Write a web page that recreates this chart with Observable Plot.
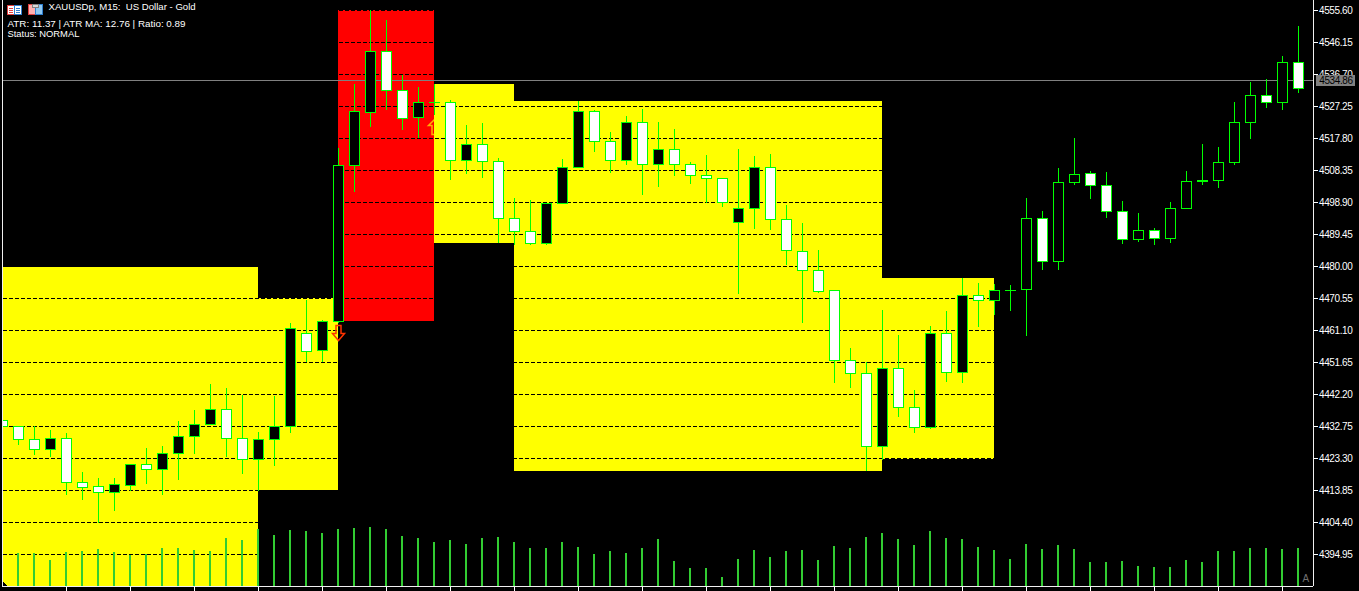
<!DOCTYPE html>
<html><head><meta charset="utf-8">
<script src="https://cdn.jsdelivr.net/npm/d3@7"></script>
<script src="https://cdn.jsdelivr.net/npm/@observablehq/plot@0.6"></script>
<style>
html,body{margin:0;padding:0;background:#000;overflow:hidden}
#wrap{position:relative;width:1359px;height:591px}
#icons{position:absolute;left:0;top:0}
svg text{font-family:"Liberation Sans",sans-serif}
.ya text{letter-spacing:-.4px}
</style></head><body><div id="wrap"></div>
<script>
const open=[4434.52,4432.75,4428.91,4425.96,4429.21,4416.22,4415.04,4413.26,4415.33,4421.53,4420.05,4424.78,4429.80,4433.35,4437.77,4429.21,4423.00,4428.91,4432.75,4460.21,4455.20,4463.76,4509.83,4525.48,4543.49,4531.98,4524.00,4528.44,4528.44,4511.31,4516.03,4511.01,4494.18,4490.34,4486.79,4498.60,4509.24,4525.77,4516.91,4511.31,4522.53,4510.13,4514.55,4510.13,4506.87,4505.99,4493.00,4497.13,4509.24,4493.88,4484.43,4478.82,4472.92,4452.24,4448.40,4426.85,4449.88,4438.36,4432.45,4460.21,4448.70,4471.44,4469.96,4472.92,4473.21,4494.18,4481.48,4504.81,4507.46,4503.92,4496.24,4487.97,4490.64,4488.27,4497.13,4505.40,4505.40,4510.72,4522.53,4530.50,4528.44,4540.24];
const close=[4432.75,4428.91,4425.96,4429.21,4416.22,4414.74,4413.26,4415.63,4421.53,4420.05,4424.78,4429.80,4433.35,4437.77,4429.21,4423.00,4428.91,4432.75,4461.70,4454.90,4463.76,4509.83,4525.77,4543.49,4531.98,4523.71,4528.44,4528.44,4511.31,4516.03,4511.01,4494.18,4490.34,4486.79,4498.60,4509.24,4525.77,4516.91,4511.31,4522.53,4510.13,4514.55,4510.13,4506.87,4505.99,4498.90,4497.13,4509.24,4493.88,4484.73,4478.82,4472.62,4452.24,4448.40,4426.85,4449.88,4438.36,4432.45,4460.21,4448.70,4471.44,4469.96,4472.92,4472.92,4494.18,4481.48,4504.81,4507.17,4503.92,4496.24,4487.97,4490.64,4488.27,4497.13,4505.10,4505.10,4510.72,4522.53,4530.50,4528.44,4540.24,4532.57];
const high=[4434.52,4432.75,4432.75,4431.57,4430.68,4419.17,4417.40,4417.40,4421.53,4426.26,4426.85,4434.23,4437.48,4445.16,4443.98,4441.90,4430.98,4441.61,4463.17,4469.96,4464.06,4514.85,4533.75,4555.60,4552.65,4536.40,4532.86,4533.75,4529.03,4521.64,4522.23,4511.90,4500.09,4499.50,4498.60,4511.60,4528.73,4526.07,4519.58,4524.30,4526.36,4522.53,4520.46,4510.72,4512.78,4505.99,4514.55,4512.49,4513.08,4498.01,4492.70,4484.73,4472.92,4455.79,4451.65,4467.01,4459.62,4443.39,4462.29,4466.71,4476.46,4474.98,4474.69,4474.39,4500.09,4496.24,4508.94,4517.80,4508.06,4507.76,4499.20,4495.65,4491.23,4498.90,4508.06,4516.03,4515.14,4528.44,4534.34,4535.22,4542.02,4550.88];
const low=[4432.75,4427.14,4424.19,4423.60,4412.37,4410.90,4404.10,4407.65,4413.55,4415.63,4412.37,4416.81,4424.49,4433.35,4423.60,4418.58,4413.55,4420.94,4430.68,4451.65,4451.65,4463.17,4501.86,4521.05,4526.07,4520.17,4517.80,4524.59,4505.40,4507.17,4505.99,4486.79,4486.20,4486.20,4486.20,4498.60,4508.94,4513.67,4507.46,4509.83,4500.97,4503.33,4506.58,4504.22,4498.60,4497.42,4471.74,4490.93,4490.64,4480.30,4463.17,4472.03,4445.45,4443.98,4419.46,4422.71,4435.41,4430.68,4431.86,4445.75,4445.45,4461.99,4465.53,4466.71,4459.33,4478.82,4478.82,4503.92,4499.79,4494.18,4486.50,4487.09,4486.20,4486.79,4497.13,4503.92,4503.04,4509.83,4517.50,4526.66,4526.07,4531.09];
const volume=[33,33,33,26,34,35,37,34,31,32,38,38,36,35,48,46,57,51,56,55,53,57,58,59,57,50,48,44,46,42,48,49,44,38,38,44,39,32,35,33,38,47,25,18,18,9,27,36,29,35,36,26,40,38,49,53,47,41,55,48,47,39,36,27,42,37,41,37,24,24,25,20,19,19,26,24,35,35,38,38,37,38];
const priceTicks=[4555.60,4546.15,4536.70,4527.25,4517.80,4508.35,4498.90,4489.45,4480.00,4470.55,4461.10,4451.65,4442.20,4432.75,4423.30,4413.85,4404.40,4394.95];
const timeTicks=[4,8,12,16,20,24,28,32,36,40,44,48,52,56,60,64,68,72,76,80];
const zoneStart=[-1,16,21,27,32,55];
const zoneEnd=[16,21,27,32,55,62];
const zoneTop=[4479.70,4470.55,4555.60,4533.75,4528.73,4476.46];
const zoneBottom=[4385.50,4413.85,4463.76,4486.79,4419.46,4423.00];
const zoneFill=["#ffff00","#ffff00","#ff0000","#ffff00","#ffff00","#ffff00"];
const currentPrice=4534.86;
const volumeBase=4385.50, volumeUnit=0.295313;
const titleLine="XAUUSDp, M15:\u00A0 US Dollar - Gold";
const atrLine="ATR: 11.37 | ATR MA: 12.76 | Ratio: 0.89";
const statusLine="Status: NORMAL";

const bars=open.map((o,i)=>({i,open:o,close:close[i],high:high[i],low:low[i],volume:volume[i]}));
const zones=zoneStart.map((s,k)=>({s,e:zoneEnd[k],top:zoneTop[k],bottom:zoneBottom[k],fill:zoneFill[k]}));
const redZones=zones.filter(z=>z.fill==="#ff0000"), yellowZones=zones.filter(z=>z.fill!=="#ff0000");
const bw=5/16;
const arrowDown={draw(c){c.moveTo(-2.5,-7);c.lineTo(2.5,-7);c.lineTo(2.5,1);c.lineTo(6,1);c.lineTo(0,8);c.lineTo(-6,1);c.lineTo(-2.5,1);c.closePath();}};
const arrowUp={draw(c){c.moveTo(-2.5,8);c.lineTo(2.5,8);c.lineTo(2.5,-1);c.lineTo(6,-1);c.lineTo(0,-7);c.lineTo(-6,-1);c.lineTo(-2.5,-1);c.closePath();}};
const crisp={shapeRendering:"crispEdges"};
const corner=(txt,dx,dy,fontSize)=>Plot.text([txt],{frameAnchor:"top-left",dx,dy,text:d=>d,fill:"#fff",fontSize,textAnchor:"start",lineAnchor:"top"});

const chart=Plot.plot({
  width:1359,height:591,marginLeft:3,marginRight:46,marginTop:0,marginBottom:5,
  style:{background:"#000",color:"#fff",fontFamily:"Liberation Sans",overflow:"visible"},
  x:{domain:[0,81],range:[2,1298],axis:null},
  y:{domain:[4555.60,4394.95],range:[10,554],axis:null},
  color:{type:"identity"},
  marks:[
    Plot.rect(redZones,{x1:"s",x2:"e",y1:"top",y2:"bottom",fill:"fill",clip:true,...crisp}),
    Plot.dot([{i:27,p:4521.35}],{x:"i",y:"p",r:5,symbol:arrowUp,fill:"none",stroke:"#ffb000",strokeWidth:1.5}),
    Plot.rect(yellowZones,{x1:"s",x2:"e",y1:"top",y2:"bottom",fill:"fill",clip:true,...crisp}),
    Plot.ruleY(priceTicks,{stroke:"#000",strokeWidth:1,strokeDasharray:"4,2",clip:true,...crisp}),
    Plot.ruleY([currentPrice],{stroke:"#808080",strokeWidth:1,...crisp,x1:0,x2:81.94}),
    Plot.ruleX(bars,{x:"i",y1:d=>volumeBase+d.volume*volumeUnit,y2:volumeBase,stroke:"#32cd32",strokeWidth:2,dx:-0.5,clip:true,...crisp}),
    Plot.ruleX(bars,{x:"i",y1:"high",y2:"low",stroke:"#00ff00",strokeWidth:1,clip:true,...crisp}),
    Plot.rect(bars.filter(d=>d.open!==d.close),{x1:d=>d.i-bw,x2:d=>d.i+bw,y1:"open",y2:"close",dx:0.5,dy:0.5,fill:d=>d.close>d.open?"#000000":"#ffffff",stroke:"#00ff00",strokeWidth:1,clip:true,...crisp}),
    Plot.ruleY(bars.filter(d=>d.open===d.close),{y:"open",x1:d=>d.i-bw,x2:d=>d.i+5.5/16,stroke:"#00ff00",strokeWidth:1,...crisp}),
    Plot.dot([{i:21,p:4460.51}],{x:"i",y:"p",r:5,symbol:arrowDown,fill:"none",stroke:"#ff3300",strokeWidth:1.5}),
    Plot.axisY({anchor:"right",ticks:priceTicks,tickSize:4,tickPadding:1.5,tickFormat:d=>d.toFixed(2),fontSize:10,stroke:"#fff",fill:"#fff",label:null,className:"ya"}),
    Plot.axisX({anchor:"bottom",ticks:timeTicks,tickSize:5,tickFormat:()=>"",stroke:"#fff",label:null}),
    Plot.ruleX([0],{stroke:"#f0f0f0",...crisp}),
    Plot.ruleX([81.9375],{stroke:"#f0f0f0",...crisp,y1:4558.6,y2:volumeBase}),
    Plot.ruleY([volumeBase],{stroke:"#f0f0f0",x1:0,x2:81.94,...crisp}),
    Plot.rect([currentPrice],{x1:82.125,x2:84.5625,y1:d=>d+1.55,y2:d=>d-1.7,fill:"#808080",...crisp}),
    Plot.text([currentPrice],{x:82.3,y:d=>d,text:d=>d.toFixed(2),textAnchor:"start",fill:"#000",fontSize:10,className:"ya"}),
    Plot.text(["A"],{x:81.25,y:4387.8,text:d=>d,fill:"#707070",fontSize:10,textAnchor:"start"}),
    corner(titleLine,45,3,9.6),
    corner(atrLine,4,19,9.85),
    corner(statusLine,4,30,9.4)
  ]
});
const wrap=document.getElementById("wrap");
wrap.appendChild(chart);
wrap.insertAdjacentHTML("beforeend",`<svg id="icons" width="50" height="20" shape-rendering="crispEdges">
<rect x="7.5" y="5.5" width="7" height="9" fill="#fff" stroke="#e04040"/><rect x="14.5" y="5.5" width="7" height="9" fill="#fff" stroke="#2f7fd0"/>
<path d="M9 8h4M9 10h4M9 12h4" stroke="#e04040"/><path d="M16 8h4M16 10h4M16 12h4" stroke="#2f7fd0"/>
<rect x="28.5" y="4.5" width="7" height="10" fill="#ffb0b0" stroke="#e04040"/><rect x="35.5" y="4.5" width="7" height="10" fill="#90c8f0" stroke="#2f7fd0"/>
<rect x="32.5" y="4.5" width="6" height="3" fill="#d8d8d8" stroke="#808080"/></svg>
<svg style="position:absolute;left:3px;top:582px" width="5" height="4"><path d="M0 0L1 0L1 1L2 1L2 2L3 2L3 3L4 3L4 4L0 4Z" fill="#000"/></svg>`);
</script></body></html>
